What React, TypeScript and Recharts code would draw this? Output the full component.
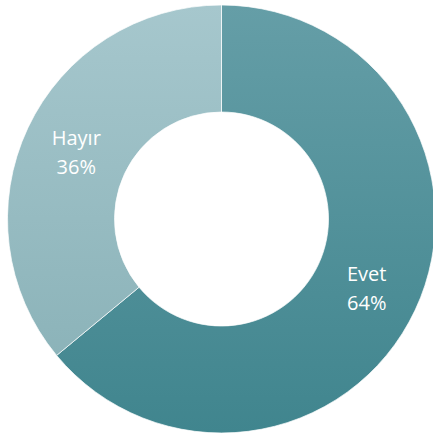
import React from 'react';
import { PieChart, Pie, Cell } from 'recharts';

// survey answers (percent of respondents)
const answers = ['Evet', 'Hayır'];
const shares = [64, 36];

const gradients = [
  { id: 'evetFill', top: '#659ea7', bottom: '#40858e' },
  { id: 'hayirFill', top: '#a6c7cd', bottom: '#86afb5' },
];

const data = answers.map((name, i) => ({ name, value: shares[i] }));

const RADIAN = Math.PI / 180;

const renderLabel = (props: any) => {
  const { cx, cy, midAngle, innerRadius, outerRadius, name, percent } = props;
  const r = (innerRadius + outerRadius) / 2;
  const x = cx + r * Math.cos(-midAngle * RADIAN);
  const y = cy + r * Math.sin(-midAngle * RADIAN);
  return (
    <text
      x={x}
      y={y}
      fill="#ffffff"
      textAnchor="middle"
      fontFamily="'Open Sans', sans-serif"
      fontSize={20}
    >
      <tspan x={x} dy={-6}>{name}</tspan>
      <tspan x={x} dy={29}>{`${Math.round(percent * 100)}%`}</tspan>
    </text>
  );
};

const App: React.FC = () => {
  return (
    <div style={{ position: 'absolute', left: 0, top: 0, width: 433, height: 437, background: '#fff' }}>
      <PieChart width={433} height={437} margin={{ top: 0, right: 0, bottom: 0, left: 0 }}>
        <defs>
          {gradients.map(g => (
            <linearGradient key={g.id} id={g.id} gradientUnits="userSpaceOnUse" x1={0} y1={5} x2={0} y2={433}>
              <stop offset="0%" stopColor={g.top} />
              <stop offset="100%" stopColor={g.bottom} />
            </linearGradient>
          ))}
        </defs>
        <Pie
          data={data}
          dataKey="value"
          nameKey="name"
          cx={221.5}
          cy={219}
          innerRadius={107}
          outerRadius={214}
          startAngle={90}
          endAngle={-270}
          stroke="#ffffff"
          strokeWidth={0.7}
          label={renderLabel}
          labelLine={false}
          isAnimationActive={false}
        >
          {data.map((entry, index) => (
            <Cell key={`cell-${index}`} fill={`url(#${gradients[index].id})`} />
          ))}
        </Pie>
      </PieChart>
    </div>
  );
};

export default App;
